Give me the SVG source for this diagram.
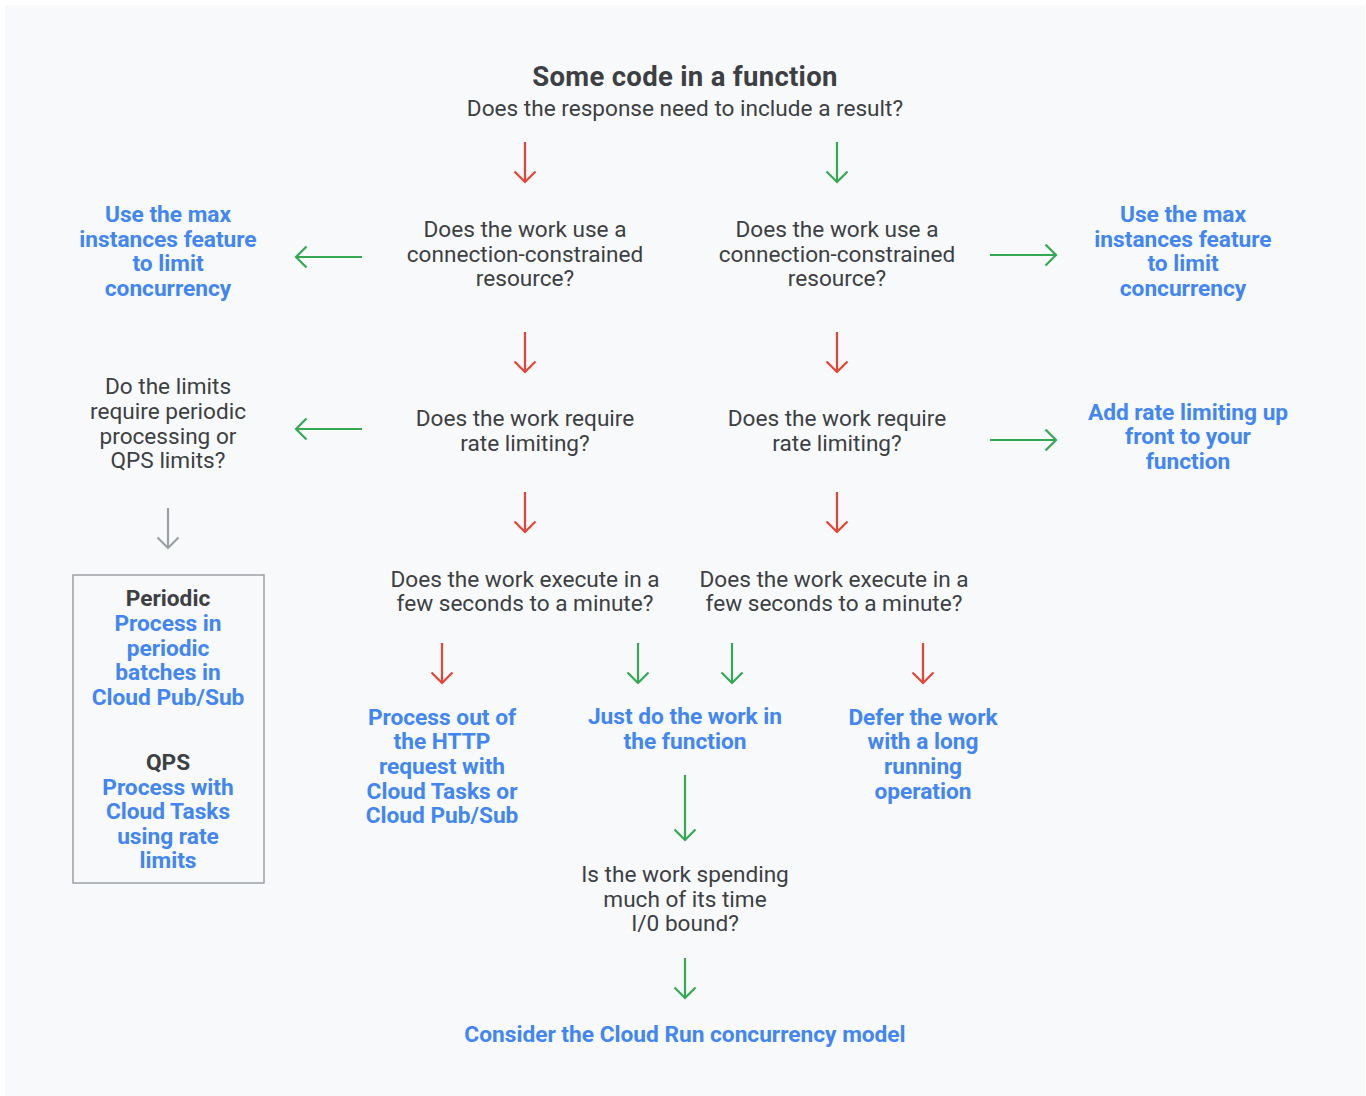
<svg xmlns="http://www.w3.org/2000/svg" width="1366" height="1096" viewBox="0 0 1366 1096">
<defs>
<marker id="hr" markerUnits="userSpaceOnUse" viewBox="0 0 14 24" markerWidth="14" markerHeight="24" refX="12" refY="12" orient="auto"><path d="M1.5,1.5 L12,12 L1.5,22.5" fill="none" stroke="#ea4335" stroke-width="2.2"/></marker>
<marker id="hg" markerUnits="userSpaceOnUse" viewBox="0 0 14 24" markerWidth="14" markerHeight="24" refX="12" refY="12" orient="auto"><path d="M1.5,1.5 L12,12 L1.5,22.5" fill="none" stroke="#34a853" stroke-width="2.2"/></marker>
<marker id="hy" markerUnits="userSpaceOnUse" viewBox="0 0 14 24" markerWidth="14" markerHeight="24" refX="12" refY="12" orient="auto"><path d="M1.5,1.5 L12,12 L1.5,22.5" fill="none" stroke="#9aa0a6" stroke-width="2.2"/></marker>
</defs>
<style>
text{font-family:Roboto,"Liberation Sans",sans-serif;text-anchor:middle}
.q{font-size:22.6px;fill:#3c4043}
.b{font-size:22.7px;font-weight:700;fill:#4285f4}
.h{font-size:22.7px;font-weight:700;fill:#3c4043}
.t{font-size:27.5px;font-weight:700;fill:#3c4043;letter-spacing:0.3px}
.r{stroke:#ea4335;stroke-width:2.2;fill:none;marker-end:url(#hr)}
.g{stroke:#34a853;stroke-width:2.2;fill:none;marker-end:url(#hg)}
.y{stroke:#9aa0a6;stroke-width:2.2;fill:none;marker-end:url(#hy)}
</style>
<rect x="0" y="0" width="1366" height="1096" fill="#ffffff"/>
<rect x="5" y="5" width="1360" height="1091" fill="#f8f9fa"/>

<g id="start">
<text class="t" x="685" y="86">Some code in a function</text>
<text class="q" x="685" y="116">Does the response need to include a result?</text>
</g>

<g id="q1-left"><text class="q" x="525" y="237">Does the work use a</text><text class="q" x="525" y="262">connection-constrained</text><text class="q" x="525" y="286">resource?</text></g>
<g id="q1-right"><text class="q" x="837" y="237">Does the work use a</text><text class="q" x="837" y="262">connection-constrained</text><text class="q" x="837" y="286">resource?</text></g>
<g id="maxinst-left"><text class="b" x="168" y="222">Use the max</text><text class="b" x="168" y="247">instances feature</text><text class="b" x="168" y="271">to limit</text><text class="b" x="168" y="296">concurrency</text></g>
<g id="maxinst-right"><text class="b" x="1183" y="222">Use the max</text><text class="b" x="1183" y="247">instances feature</text><text class="b" x="1183" y="271">to limit</text><text class="b" x="1183" y="296">concurrency</text></g>

<g id="q2-left"><text class="q" x="525" y="426">Does the work require</text><text class="q" x="525" y="451">rate limiting?</text></g>
<g id="q2-right"><text class="q" x="837" y="426">Does the work require</text><text class="q" x="837" y="451">rate limiting?</text></g>
<g id="limits"><text class="q" x="168" y="394">Do the limits</text><text class="q" x="168" y="419">require periodic</text><text class="q" x="168" y="444">processing or</text><text class="q" x="168" y="468">QPS limits?</text></g>
<g id="ratelimit"><text class="b" x="1188" y="420">Add rate limiting up</text><text class="b" x="1188" y="444">front to your</text><text class="b" x="1188" y="469">function</text></g>

<g id="options">
<rect x="73" y="575" width="191" height="308" fill="none" stroke="#9aa0a6" stroke-width="1.5"/>
<text class="h" x="168" y="606">Periodic</text>
<text class="b" x="168" y="631">Process in</text><text class="b" x="168" y="656">periodic</text><text class="b" x="168" y="680">batches in</text><text class="b" x="168" y="705">Cloud Pub/Sub</text>
<text class="h" x="168" y="770">QPS</text>
<text class="b" x="168" y="795">Process with</text><text class="b" x="168" y="819">Cloud Tasks</text><text class="b" x="168" y="844">using rate</text><text class="b" x="168" y="868">limits</text>
</g>

<g id="q3-left"><text class="q" x="525" y="587">Does the work execute in a</text><text class="q" x="525" y="611">few seconds to a minute?</text></g>
<g id="q3-right"><text class="q" x="834" y="587">Does the work execute in a</text><text class="q" x="834" y="611">few seconds to a minute?</text></g>

<g id="outofhttp"><text class="b" x="442" y="725">Process out of</text><text class="b" x="442" y="749">the HTTP</text><text class="b" x="442" y="774">request with</text><text class="b" x="442" y="799">Cloud Tasks or</text><text class="b" x="442" y="823">Cloud Pub/Sub</text></g>
<g id="justdo"><text class="b" x="685" y="724">Just do the work in</text><text class="b" x="685" y="749">the function</text></g>
<g id="defer"><text class="b" x="923" y="725">Defer the work</text><text class="b" x="923" y="749">with a long</text><text class="b" x="923" y="774">running</text><text class="b" x="923" y="799">operation</text></g>
<g id="iobound"><text class="q" x="685" y="882">Is the work spending</text><text class="q" x="685" y="907">much of its time</text><text class="q" x="685" y="931">I/0 bound?</text></g>
<g id="concurrency"><text class="b" x="685" y="1042">Consider the Cloud Run concurrency model</text></g>

<g id="connectors">
<path class="r" d="M525,142 V182"/>
<path class="g" d="M837,142 V182"/>
<path class="g" d="M362,257 H296"/>
<path class="g" d="M990,255 H1056"/>
<path class="r" d="M525,332 V372"/>
<path class="r" d="M837,332 V372"/>
<path class="g" d="M362,429 H296"/>
<path class="g" d="M990,440 H1056"/>
<path class="y" d="M168,508 V548"/>
<path class="r" d="M525,492 V532"/>
<path class="r" d="M837,492 V532"/>
<path class="r" d="M442,643 V683"/>
<path class="g" d="M638,643 V683"/>
<path class="g" d="M732,643 V683"/>
<path class="r" d="M923,643 V683"/>
<path class="g" d="M685,775 V840"/>
<path class="g" d="M685,958 V998"/>
</g>
</svg>
